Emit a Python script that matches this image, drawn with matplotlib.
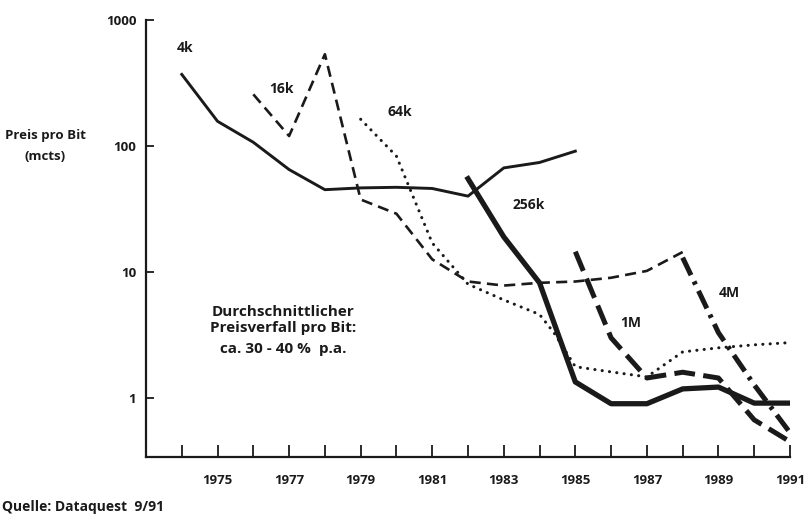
import numpy as np
import matplotlib
matplotlib.use("Agg")
import matplotlib.pyplot as plt
from matplotlib.ticker import FixedLocator, NullLocator, FixedFormatter

plt.rcParams["font.family"] = ["Open Sans", "DejaVu Sans"]
plt.rcParams["font.weight"] = "bold"
plt.rcParams["lines.scale_dashes"] = False

# price per bit (millicents)
years_4k = [1974, 1975, 1976, 1977, 1978, 1979, 1980, 1981, 1982, 1983, 1984, 1985]
price_4k = [370, 157, 107, 65, 45, 46.5, 47, 46, 40, 67, 74, 91]

years_16k = [1976, 1977, 1978, 1979, 1980, 1981, 1982, 1983, 1984, 1985, 1986, 1987, 1988]
price_16k = [257, 120, 535, 37.6, 29, 12.6, 8.4, 7.8, 8.2, 8.4, 9.0, 10.2, 14.4]

years_64k = [1979, 1980, 1981, 1982, 1983, 1984, 1984.4, 1985, 1986, 1987, 1988, 1989, 1990, 1991]
price_64k = [163, 83, 17, 8.0, 6.0, 4.6, 3.3, 1.77, 1.61, 1.47, 2.32, 2.5, 2.64, 2.75]

years_256k = [1982, 1983, 1984, 1985, 1986, 1987, 1988, 1989, 1990, 1991]
price_256k = [55, 19, 8.2, 1.34, 0.9, 0.9, 1.18, 1.22, 0.91, 0.91]

years_1m = [1985, 1986, 1987, 1988, 1989, 1990, 1991]
price_1m = [14.5, 3.0, 1.44, 1.6, 1.44, 0.67, 0.45]

years_4m = [1988, 1989, 1990, 1991]
price_4m = [13, 3.3, 1.27, 0.53]

tick_years = list(range(1974, 1992))
label_years = list(range(1975, 1992, 2))
y_ticks = [1, 10, 100, 1000]


def main():

    fig = plt.figure(figsize=(8.08, 5.2), dpi=100)
    ax = fig.add_axes([0.1807, 0.1212, 0.797, 0.8403])

    ax.plot(years_4k, price_4k, color="#1a1a1a", lw=2.1, solid_joinstyle="round")

    l16, = ax.plot(years_16k, price_16k, color="#1a1a1a", lw=1.9)
    l16.set_dashes([8, 4.5])

    l64, = ax.plot(years_64k, price_64k, color="#1a1a1a", lw=2.2,
                   dash_capstyle="round")
    l64.set_dashes([0.1, 5.2])

    ax.plot(years_256k, price_256k, color="#1a1a1a", lw=3.8, solid_joinstyle="round")

    l1m, = ax.plot(years_1m, price_1m, color="#1a1a1a", lw=3.6)
    l1m.set_dashes([15, 6])

    l4m, = ax.plot(years_4m, price_4m, color="#1a1a1a", lw=3.6)
    l4m.set_dashes([14, 5, 2.5, 5])

    ax.set_yscale("log")
    ax.set_xlim(1973, 1991)
    ax.set_ylim(0.34, 1000)

    ax.xaxis.set_major_locator(FixedLocator(tick_years))
    ax.set_xticklabels([str(y) if y in label_years else "" for y in tick_years])
    ax.yaxis.set_major_locator(FixedLocator(y_ticks))
    ax.yaxis.set_major_formatter(FixedFormatter([str(v) for v in y_ticks]))
    ax.yaxis.set_minor_locator(NullLocator())

    ax.tick_params(axis="x", direction="in", length=9, width=1.3, pad=12,
                   labelsize=9.5, colors="#1a1a1a")
    ax.tick_params(axis="y", direction="in", length=6, width=1.3, pad=7,
                   labelsize=9.5, colors="#1a1a1a")

    for side in ["top", "right"]:
        ax.spines[side].set_visible(False)
    for side in ["left", "bottom"]:
        ax.spines[side].set_linewidth(1.6)
        ax.spines[side].set_color("#1a1a1a")

    ax.patch.set_alpha(0)

    labels = [
        ("4k", 1974.1, 605),
        ("16k", 1976.8, 286),
        ("64k", 1980.1, 185),
        ("256k", 1983.7, 34),
        ("1M", 1986.55, 3.95),
        ("4M", 1989.3, 6.8),
    ]
    for txt, x, y in labels:
        ax.text(x, y, txt, fontsize=10, fontweight="bold", color="#1a1a1a",
                ha="center", va="center")

    fig.text(45 / 808, 1 - 135 / 520, "Preis pro Bit", fontsize=9.5,
             ha="center", va="center", color="#1a1a1a")
    fig.text(45 / 808, 1 - 157 / 520, "(mcts)", fontsize=9.5,
             ha="center", va="center", color="#1a1a1a")

    fig.text(283 / 808, 1 - 312 / 520, "Durchschnittlicher", fontsize=11,
             ha="center", va="center", color="#1a1a1a")
    fig.text(283 / 808, 1 - 328 / 520, "Preisverfall pro Bit:", fontsize=11,
             ha="center", va="center", color="#1a1a1a")
    fig.text(283 / 808, 1 - 349 / 520, "ca. 30 - 40 %  p.a.", fontsize=11,
             ha="center", va="center", color="#1a1a1a")

    fig.text(2 / 808, 1 - 507 / 520, "Quelle: Dataquest  9/91", fontsize=10,
             ha="left", va="center", color="#1a1a1a")

    fig.savefig("out.png", dpi=100)


if __name__ == "__main__":

    main()
